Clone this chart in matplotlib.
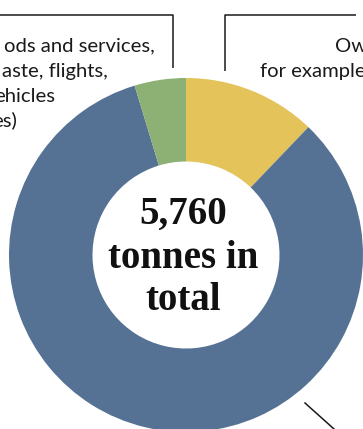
import matplotlib
matplotlib.use("Agg")
import matplotlib.pyplot as plt

# Data (tonnes)
categories = ["Own emissions", "Indirect emissions", "Other"]
values = [700, 4790, 270]
colors = ["#E3C35A", "#557294", "#8DB074"]
total_label = ["5,760", "tonnes in", "total"]
left_lines = ["ods and services,", "aste, flights,", "ehicles", "es)"]
right_lines = ["Ow", "for example"]

W, H = 363, 429
fig = plt.figure(figsize=(W / 100, H / 100), dpi=100)
ax = fig.add_axes([0, 0, 1, 1])

def py(y):
    return H - y

cx, cy, R = 186, py(255), 177
ax.pie(values, colors=colors, startangle=90, counterclock=False,
       radius=R, center=(cx, cy),
       wedgeprops=dict(width=R - 93.5, linewidth=0))

ax.set_xlim(0, W)
ax.set_ylim(0, H)
ax.set_aspect("equal")
ax.axis("off")

# Leader lines
lc = "#1a1a1a"
ax.plot([0, 173, 173], [py(15), py(15), py(68)], color=lc, lw=1.1, solid_capstyle="butt")
ax.plot([356, 225, 225], [py(15), py(15), py(71)], color=lc, lw=1.1, solid_capstyle="butt")
ax.plot([305, 334], [py(403), py(429)], color=lc, lw=1.1)

fs = 14.6
# Left annotation (continues beyond the left edge)
ends = [155, 108, 55, 17]
ys = [46, 71, 96, 120]
for t, xe, yy in zip(left_lines, ends, ys):
    ax.text(xe, py(yy), t, ha="right", va="center", fontsize=fs,
            family="Lato", color="#1a1a1a")

# Right annotation
ax.text(335, py(46), right_lines[0], ha="left", va="center", fontsize=fs,
        family="Lato", color="#1a1a1a")
ax.text(260, py(71), right_lines[1], ha="left", va="center", fontsize=fs,
        family="Lato", color="#1a1a1a")

# Center label
for t, yy in zip(total_label, [214, 258, 301]):
    ax.text(183, py(yy), t, ha="center", va="center", fontsize=28,
            family="Liberation Serif", fontweight="bold", color="#111111")

fig.savefig("out.png", dpi=100)
